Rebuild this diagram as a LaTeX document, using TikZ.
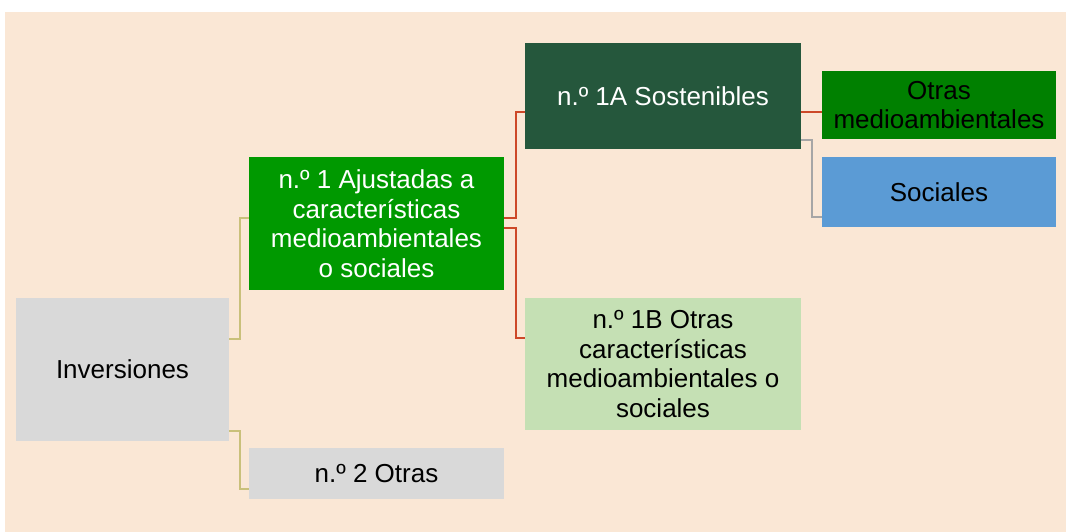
\documentclass[tikz,border=0pt]{standalone}
\usepackage{fontspec}
\setmainfont{Liberation Sans}
\usepackage{tikz}
\usetikzlibrary{calc,positioning}
\definecolor{fondo}{RGB}{250,231,213}
\definecolor{gris}{RGB}{217,217,217}
\definecolor{verde}{RGB}{0,153,0}
\definecolor{verdeosc}{RGB}{37,87,60}
\definecolor{verdecl}{RGB}{197,224,180}
\definecolor{verdemed}{RGB}{0,128,0}
\definecolor{azul}{RGB}{91,155,213}
\definecolor{lineaY}{RGB}{201,192,122}
\definecolor{lineaR}{RGB}{205,72,40}
\definecolor{lineaG}{RGB}{166,166,166}
\tikzset{
  box/.style={rectangle, inner sep=0pt, align=center, font=\fontsize{26}{29.5}\selectfont},
  link/.style={line width=1.8pt}
}
\begin{document}
\begin{tikzpicture}[x=1pt,y=1pt]
\useasboundingbox (0,0) rectangle (1073,532);
\fill[fondo] (5,0) rectangle (1066,520);
% nodes
\node[box, fill=gris, minimum width=213pt, minimum height=143pt] (inv) at (122.5,162.5) {Inversiones};
\node[box, fill=gris, minimum width=255pt, minimum height=51pt] (dos) at (376.5,58.5) {n.º 2 Otras};
\node[box, fill=verde, text=white, minimum width=255pt, minimum height=133pt] (uno) at (376.5,308.5) {n.º 1 Ajustadas a\\características\\medioambientales\\o sociales};
\node[box, fill=verdeosc, text=white, minimum width=276pt, minimum height=106pt] (unoA) at (663,436) {n.º 1A Sostenibles};
\node[box, fill=verdecl, minimum width=276pt, minimum height=132pt] (unoB) at (663,168) {n.º 1B Otras\\características\\medioambientales o\\sociales};
\node[box, fill=verdemed, minimum width=234pt, minimum height=68pt] (otras) at (939,427) {Otras\\medioambientales};
\node[box, fill=azul, minimum width=234pt, minimum height=70pt] (soc) at (939,340) {Sociales};
% connectors
\draw[link, lineaY] ([yshift=30.5pt]inv.east) -- ++(11,0) |- ([yshift=5.5pt]uno.west);
\draw[link, lineaY] ([yshift=-61.5pt]inv.east) -- ++(11,0) |- ([yshift=-15.5pt]dos.west);
\draw[link, lineaR] ([yshift=5.5pt]uno.east) -- ++(12,0) |- ([yshift=-16pt]unoA.west);
\draw[link, lineaR] ([yshift=-4.5pt]uno.east) -- ++(12,0) |- ([yshift=26pt]unoB.west);
\draw[link, lineaR] ([yshift=-16pt]unoA.east) -- ([yshift=-7pt]otras.west);
\draw[link, lineaG] ([yshift=-44pt]unoA.east) -- ++(11,0) |- ([yshift=-25pt]soc.west);
\end{tikzpicture}
\end{document}
